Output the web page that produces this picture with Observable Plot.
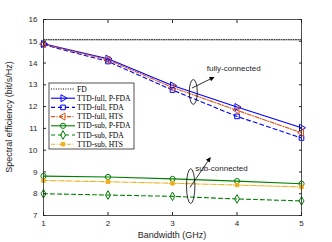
<!DOCTYPE html>
<html>
<head>
<meta charset="utf-8">
<script src="https://cdn.jsdelivr.net/npm/d3@7"></script>
<script src="https://cdn.jsdelivr.net/npm/@observablehq/plot@0.6"></script>
<style>
  html, body { margin: 0; padding: 0; background: #fff; }
  #chart { width: 332px; height: 242px; overflow: hidden; }
</style>
</head>
<body>
<div id="chart"></div>
<script>
// ---- data ----
const bandwidth = [1, 2, 3, 4, 5];
const fdValues       = [15.07, 15.07, 15.07, 15.07, 15.07];
const fullPFDA       = [14.88, 14.20, 12.97, 11.98, 11.03];
const fullFDA        = [14.85, 14.07, 12.76, 11.55, 10.56];
const fullHTS        = [14.87, 14.15, 12.88, 11.83, 10.80];
const subPFDA        = [8.81, 8.77, 8.68, 8.58, 8.46];
const subFDA         = [8.00, 7.94, 7.88, 7.76, 7.67];
const subHTS         = [8.61, 8.55, 8.48, 8.40, 8.31];
const seriesNames = ["FD", "TTD-full, P-FDA", "TTD-full, FDA", "TTD-full, HTS",
                     "TTD-sub, P-FDA", "TTD-sub, FDA", "TTD-sub, HTS"];
const seriesValues = [fdValues, fullPFDA, fullFDA, fullHTS, subPFDA, subFDA, subHTS];
const xTicks = [1, 2, 3, 4, 5];
const yTicks = [7, 8, 9, 10, 11, 12, 13, 14, 15, 16];
const xLabel = "Bandwidth (GHz)";
const yLabel = "Spectral efficiency (bit/s/Hz)";
const annotationTexts = ["fully-connected", "sub-connected"];

// ---- styles (separate from data) ----
const styles = [
  {color: "#000000", dash: "1,1.4", symbol: null},
  {color: "#0000ff", dash: null, symbol: "triangle", rotate: 90, fill: "none"},
  {color: "#0000ff", dash: "4,3", symbol: "square", rotate: 0, fill: "none"},
  {color: "#d95319", dash: "4,1.5,1,1.5", symbol: "triangle", rotate: -90, fill: "none"},
  {color: "#008000", dash: null, symbol: "circle", rotate: 0, fill: "none"},
  {color: "#008000", dash: "4,3", symbol: "diamond", rotate: 0, fill: "none"},
  {color: "#edb120", dash: "4,1.5,1,1.5", symbol: "square", rotate: 0, fill: "#edb120", small: true}
];
// annotation geometry in data units
const annoGeom = [
  {cx: 3.33, cy: 12.65, rx: 0.062, ry: 0.57, ax1: 3.31, ay1: 12.83, ax2: 3.66, ay2: 13.34, tx: 3.54, ty: 13.75},
  {cx: 3.29, cy: 8.33, rx: 0.065, ry: 0.80, ax1: 3.28, ay1: 8.27, ax2: 3.60, ay2: 9.66, tx: 3.36, ty: 9.17}
];

const rows = [];
seriesNames.forEach((name, i) => {
  bandwidth.forEach((b, j) => rows.push({series: name, idx: i, x: b, y: seriesValues[i][j]}));
});

const lineMarks = seriesNames.map((name, i) => Plot.line(rows.filter(d => d.idx === i), {
  x: "x", y: "y", stroke: styles[i].color, strokeWidth: 1.1,
  strokeDasharray: styles[i].dash || undefined
}));
const dotMarks = seriesNames.map((name, i) => styles[i].symbol ? Plot.dot(rows.filter(d => d.idx === i), {
  x: "x", y: "y", stroke: styles[i].color, fill: styles[i].fill, strokeWidth: 1,
  symbol: styles[i].symbol, r: styles[i].small ? 2.0 : 2.6, rotate: styles[i].rotate
}) : null).filter(Boolean);

const ML = 43, MR = 31, MT = 19, MB = 27, W = 332, H = 242;
const axisColor = "#262626";

const plot = Plot.plot({
  width: W, height: H,
  marginLeft: ML, marginRight: MR, marginTop: MT, marginBottom: MB,
  style: {fontFamily: "'Liberation Sans', Arial, sans-serif", fontSize: "8px", color: axisColor, background: "#fff"},
  x: {domain: [1, 5], ticks: xTicks},
  y: {domain: [7, 16], ticks: yTicks},
  marks: [
    ...lineMarks,
    ...dotMarks,
    Plot.axisX({ticks: xTicks, tickSize: -3, tickPadding: 8, label: null, tickFormat: d => String(d)}),
    Plot.axisX({anchor: "top", ticks: xTicks, tickSize: -3, tickFormat: () => "", label: null}),
    Plot.axisY({ticks: yTicks, tickSize: -3, tickPadding: 9, label: null, tickFormat: d => String(d)}),
    Plot.axisY({anchor: "right", ticks: yTicks, tickSize: -3, tickFormat: () => "", label: null}),
    Plot.frame({stroke: axisColor, strokeWidth: 0.8})
  ]
});

document.getElementById("chart").appendChild(plot);
const svg = d3.select(plot);
const sx = plot.scale("x"), sy = plot.scale("y");

// axis labels
svg.append("text").attr("x", (ML + W - MR) / 2).attr("y", 238)
  .attr("text-anchor", "middle").attr("font-size", 9).attr("fill", axisColor).text(xLabel);
svg.append("text").attr("transform", `translate(12,${(MT + H - MB) / 2}) rotate(-90)`)
  .attr("text-anchor", "middle").attr("font-size", 9).attr("fill", axisColor).text(yLabel);

// annotations
annoGeom.forEach((g, i) => {
  const cx = sx.apply(g.cx), cy = sy.apply(g.cy);
  const rx = Math.abs(sx.apply(g.cx + g.rx) - cx), ry = Math.abs(sy.apply(g.cy + g.ry) - cy);
  svg.append("ellipse").attr("cx", cx).attr("cy", cy).attr("rx", rx).attr("ry", ry)
    .attr("fill", "none").attr("stroke", "#000").attr("stroke-width", 0.8);
  const x1 = sx.apply(g.ax1), y1 = sy.apply(g.ay1), x2 = sx.apply(g.ax2), y2 = sy.apply(g.ay2);
  const ang = Math.atan2(y2 - y1, x2 - x1), hl = 5, hw = 2.4;
  const bx = x2 - hl * Math.cos(ang), by = y2 - hl * Math.sin(ang);
  svg.append("line").attr("x1", x1).attr("y1", y1).attr("x2", bx).attr("y2", by)
    .attr("stroke", "#000").attr("stroke-width", 0.8);
  const p = [[x2, y2], [bx - hw * Math.sin(ang), by + hw * Math.cos(ang)], [bx + hw * Math.sin(ang), by - hw * Math.cos(ang)]];
  svg.append("polygon").attr("points", p.map(q => q.join(",")).join(" ")).attr("fill", "#000");
  svg.append("text").attr("x", sx.apply(g.tx)).attr("y", sy.apply(g.ty)).attr("dy", "0.35em")
    .attr("text-anchor", "start")
    .attr("font-size", 8).attr("fill", axisColor).text(annotationTexts[i]);
});

// legend
const lg = svg.append("g").attr("transform", `translate(${ML + 6},${MT + 64})`);
lg.append("rect").attr("x", 0).attr("y", 0).attr("width", 85).attr("height", 66)
  .attr("fill", "#fff").attr("stroke", axisColor).attr("stroke-width", 0.8);
const symMap = {triangle: d3.symbolTriangle, square: d3.symbolSquare, circle: d3.symbolCircle, diamond: d3.symbolDiamond};
seriesNames.forEach((name, i) => {
  const st = styles[i];
  const yy = 6 + i * 9.2;
  lg.append("line").attr("x1", 2).attr("x2", 26).attr("y1", yy).attr("y2", yy)
    .attr("stroke", st.color).attr("stroke-width", 1.1).attr("stroke-dasharray", st.dash);
  if (st.symbol) {
    const r = st.small ? 2.0 : 2.6;
    lg.append("path").attr("d", d3.symbol(symMap[st.symbol], Math.PI * r * r)())
      .attr("transform", `translate(14,${yy}) rotate(${st.rotate || 0})`)
      .attr("fill", st.fill).attr("stroke", st.color).attr("stroke-width", 1);
  }
  lg.append("text").attr("x", 28).attr("y", yy).attr("dy", "0.35em")
    .attr("text-anchor", "start")
    .attr("font-family", "'Liberation Serif', 'Times New Roman', serif").attr("font-size", 7.6)
    .attr("fill", "#000").text(name);
});
</script>
</body>
</html>
